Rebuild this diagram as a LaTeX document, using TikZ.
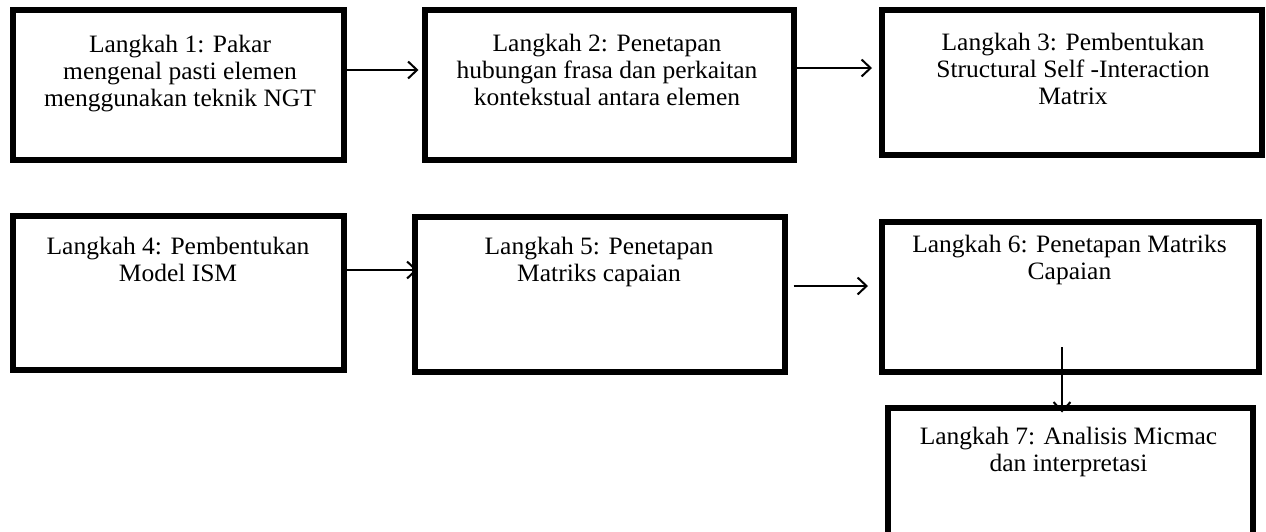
\documentclass[tikz,border=0pt]{standalone}
\usepackage{fontspec}
\setmainfont{Liberation Serif}[FakeStretch=1.02]
\usetikzlibrary{arrows.meta}
\begin{document}
\begin{tikzpicture}[x=1pt,y=-1pt,
  stepbox/.style={draw=black,line width=6pt,inner sep=0pt,rectangle},
  steptext/.style={anchor=base,align=center,inner sep=0pt,font=\fontsize{25}{27}\selectfont},
  arr/.style={line width=2pt,-{Straight Barb[length=9pt,width=17pt]}}]
\clip (0,0) rectangle (1266,531);
\fill[white] (0,0) rectangle (1266,531);
% boxes
\node[stepbox,minimum width=331pt,minimum height=150pt] (b1) at (178,85) {};
\node[stepbox,minimum width=369pt,minimum height=150pt] (b2) at (609,85) {};
\node[stepbox,minimum width=379.5pt,minimum height=145pt] (b3) at (1071.75,82.5) {};
\node[stepbox,minimum width=331pt,minimum height=153.5pt] (b4) at (178,292.75) {};
\node[stepbox,minimum width=370pt,minimum height=155.5pt] (b5) at (599.5,294.25) {};
\node[stepbox,minimum width=377pt,minimum height=150pt] (b6) at (1070.5,297) {};
\node[stepbox,minimum width=365pt,minimum height=134pt] (b7) at (1070,474.5) {};
% texts (anchor = baseline of the last line)
\node[steptext] (t1) at (180,106) {Langkah 1: Pakar\\mengenal pasti elemen\\menggunakan teknik NGT};
\node[steptext] (t2) at (607,105) {Langkah 2: Penetapan\\hubungan frasa dan perkaitan\\kontekstual antara elemen};
\node[steptext] (t3) at (1073,104) {Langkah 3: Pembentukan\\Structural Self -Interaction\\Matrix};
\node[steptext] (t4) at (178,281) {Langkah 4: Pembentukan\\Model ISM};
\node[steptext] (t5) at (599,281) {Langkah 5: Penetapan\\Matriks capaian};
\node[steptext] (t6) at (1069.5,279) {Langkah 6: Penetapan Matriks\\Capaian};
\node[steptext] (t7) at (1068.5,471) {Langkah 7: Analisis Micmac\\dan interpretasi};
% connectors
\draw[arr] (b1.east |- 0,70) -- ([xshift=-3pt]b2.west |- 0,70);
\draw[arr] (b2.east |- 0,68) -- ([xshift=-7pt]b3.west |- 0,68);
\draw[arr] (b4.east |- 0,270) -- ([xshift=6pt]b5.west |- 0,270);
\draw[arr] ([xshift=6pt]b5.east |- 0,286) -- ([xshift=-11pt]b6.west |- 0,286);
\draw[arr] ([yshift=28pt]b6.south -| 1062,0) -- ([yshift=-8pt]b7.north -| 1062,0);
\end{tikzpicture}
\end{document}
